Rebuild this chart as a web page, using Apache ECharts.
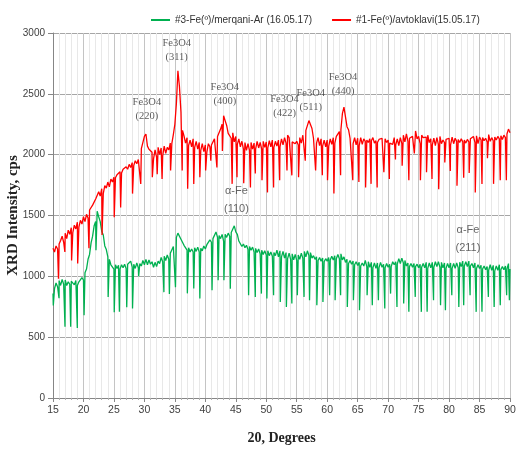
<!DOCTYPE html>
<html><head><meta charset="utf-8">
<script src="https://cdn.jsdelivr.net/npm/echarts@6/dist/echarts.min.js"></script>
<style>html,body{margin:0;padding:0;background:#fff}#c{width:518px;height:456px}</style>
</head><body><div id="c"></div>
<script>
// Sampling grid of the base traces (2θ, degrees)
const xStart = 15, xStep = 0.25;

// #1-Fe(º)/avtoklavi — base trace, 15.00 .. 90.00 every 0.25°
const redBase = [
1230,1200,1250,1225, 1265,1295,1330,1280, 1355,1310,1380,1345, 1400,1360,1420,1390,
1445,1405,1460,1430, 1490,1450,1510,1480, 1545,1535,1585,1590, 1635,1640,1695,1660,
1720,1680,1745,1725, 1775,1735,1800,1775, 1815,1810,1835,1830, 1860,1850,1880,1865,
1900,1880,1920,1895, 1935,1910,1950,1925, 1960,1970,2050,2065, 2150,2170,2070,2045,
2030,2020,1965,2040, 1980,2060,2000,2055, 1990,2070,2010,2060, 2040,2095,2090,2165,
2250,2420,2690,2560, 2350,2200,2155,2095, 2140,2075,2120,2065, 2130,2060,2110,2045,
2100,2035,2090,2025, 2080,2020,2090,2065, 2080,2085,2130,2125, 2150,2160,2210,2250,
2320,2280,2240,2175, 2190,2135,2180,2105, 2150,2085,2130,2065, 2110,2045,2100,2035,
2090,2035,2100,2045, 2095,2045,2110,2055, 2100,2045,2110,2060, 2105,2055,2115,2065,
2120,2060,2110,2070, 2120,2065,2130,2080, 2140,2095,2160,2140, 2150,2105,2120,2090,
2110,2080,2140,2095, 2160,2145,2200,2205, 2280,2295,2215,2135, 2150,2095,2140,2075,
2130,2070,2120,2065, 2120,2070,2130,2085, 2140,2095,2150,2135, 2190,2205,2340,2390,
2310,2230,2205,2135, 2150,2090,2140,2080, 2135,2075,2140,2085, 2130,2110,2120,2100,
2130,2115,2140,2095, 2115,2100,2125,2110, 2135,2125,2130,2100, 2120,2095,2110,2085,
2140,2080,2130,2075, 2140,2090,2160,2105, 2170,2110,2135,2120, 2150,2140,2195,2130,
2150,2090,2160,2140, 2150,2145,2160,2100, 2130,2080,2135,2075, 2140,2085,2150,2090,
2120,2100,2125,2110, 2135,2080,2145,2090, 2135,2110,2125,2100, 2130,2105,2120,2095,
2125,2105,2130,2120, 2150,2100,2155,2090, 2145,2120,2140,2115, 2135,2105,2165,2110,
2140,2115,2145,2120, 2150,2130,2155,2125, 2160,2140,2170,2210,
2180
];
// downward dropout spikes of the red trace
const redSpikeX = [15.9,16.95,18.05,19.05,20.9,23.05,25.05,26.1,28.05,29.4,31.3,32.1,32.9,34.3,36.2,
37.1,38.1,39.1,40.05,40.9,41.9,42.8,44.4,45.2,46.3,47.4,48.2,49.3,50.2,51.2,52.2,53.4,54.2,55.3,56.4,
58.1,59.2,60.05,61.1,62.2,64.2,65.2,66.3,67.2,68.2,69.3,70.2,71.2,72.3,73.4,74.3,75.3,76.3,77.2,78.3,
79.3,80.2,81.3,82.4,83.3,84.3,85.4,86.3,87.3,88.4,89.4];
const redSpikeY = [980,1200,1130,1105,1230,1340,1485,1565,1680,1760,1815,1840,1800,1870,1870,
1720,1760,1815,1870,1950,1895,2030,1760,1815,1765,1730,1845,1790,1690,1730,1790,1870,1830,1815,1950,
1870,1830,1790,1680,1830,1790,1775,1730,1760,1730,1855,1800,1960,1910,1790,2010,1790,1855,1800,1715,
1935,1865,1745,1810,1850,1690,1760,1970,1760,1790,1790];

// #3-Fe(º)/merqani-Ar — base trace, 15.00 .. 90.00 every 0.25°
const greenBase = [
860,900,945,915, 965,925,975,935, 970,925,955,935, 960,975,930,965,
925,955,945,990, 970,1030,1060,1140, 1180,1275,1330,1415, 1450,1535,1490,1450,
1370,1340,1250,1220, 1160,1140,1095,1100, 1060,1095,1065,1090, 1060,1095,1070,1100,
1065,1100,1085,1125, 1075,1100,1065,1110, 1070,1105,1085,1130, 1095,1140,1095,1135,
1100,1120,1075,1115, 1080,1125,1105,1155, 1120,1165,1130,1175, 1140,1190,1185,1245,
1250,1320,1355,1350, 1305,1300,1255,1255, 1215,1235,1200,1225, 1200,1235,1205,1240,
1200,1230,1210,1250, 1225,1260,1245,1300, 1280,1310,1305,1365, 1320,1335,1310,1345,
1290,1345,1320,1355, 1330,1360,1355,1415, 1365,1345,1290,1295, 1245,1265,1235,1255,
1220,1245,1215,1240, 1200,1230,1195,1225, 1185,1215,1180,1210, 1175,1210,1170,1200,
1165,1195,1170,1215, 1160,1210,1160,1205, 1150,1195,1145,1190, 1140,1185,1135,1180,
1130,1175,1140,1190, 1150,1205,1160,1210, 1170,1195,1150,1170, 1140,1160,1130,1155,
1125,1150,1120,1145, 1125,1155,1135,1165, 1135,1170,1145,1180, 1145,1185,1135,1160,
1115,1140,1105,1130, 1100,1125,1095,1120, 1090,1115,1085,1110, 1085,1130,1080,1120,
1075,1115,1070,1110, 1065,1110,1070,1115, 1075,1100,1070,1105, 1075,1100,1080,1120,
1095,1120,1100,1145, 1105,1150,1110,1130, 1085,1110,1080,1105, 1075,1105,1080,1100,
1070,1100,1075,1105, 1070,1115,1065,1110, 1070,1115,1075,1120, 1080,1120,1075,1115,
1070,1110,1065,1105, 1070,1110,1065,1105, 1065,1110,1070,1115, 1080,1125,1085,1120,
1080,1125,1085,1105, 1070,1110,1065,1095, 1065,1090,1060,1085, 1055,1080,1050,1095,
1050,1090,1045,1085, 1050,1095,1055,1080, 1055,1085,1060,1105,
1060
];
const greenSpikeX = [15.05,15.99,16.97,17.9,18.99,20.1,22.05,24.05,25.05,25.9,27.1,28.05,29.05,33.2,34.1,
35.1,37.05,38.1,39.1,41.1,42.1,43.05,44.1,47.1,48.2,49.2,50.1,51.2,52.3,53.3,54.2,55.1,56.2,57.1,58.3,
59.3,60.4,61.3,62.2,63.3,64.3,65.3,66.55,67.4,68.4,69.45,70.4,71.45,72.55,73.4,74.45,75.45,76.4,77.45,78.6,
79.4,80.45,81.6,82.4,83.45,84.45,85.4,86.45,87.4,88.4,89.45,89.9];
const greenSpikeY = [760,820,585,585,575,680,1215,830,705,710,745,735,1000,870,855,
910,860,900,817,886,968,968,899,845,831,858,817,845,790,749,776,845,831,804,763,
790,845,804,845,749,804,722,845,763,804,735,858,749,776,708,831,708,708,804,763,
722,845,749,763,845,708,708,831,749,763,845,804];

const seriesNames = ['#3-Fe(º)/merqani-Ar (16.05.17)', '#1-Fe(º)/avtoklavi(15.05.17)'];
const seriesColors = ['#00b050', '#ff0000'];

// peak annotations (2θ, intensity, text)
const feoX = [30.4, 35.3, 43.2, 53.0, 57.3, 62.6];
const feoY = [2370, 2855, 2500, 2400, 2450, 2580];
const feoText = ['Fe3O4\n(220)', 'Fe3O4\n(311)', 'Fe3O4\n(400)', 'Fe3O4\n(422)', 'Fe3O4\n(511)', 'Fe3O4\n(440)'];
const alphaX = [45.1, 83.1];
const alphaY = [1625, 1310];
const alphaText = ['α-Fe\n(110)', 'α-Fe\n(211)'];

const xMin = 15, xMax = 90, xInterval = 5;
const yMin = 0, yMax = 3000, yInterval = 500;

function buildTrace(base, sx, sy) {
  const pts = base.map((v, i) => [xStart + i * xStep, v]);
  sx.forEach((x, i) => pts.push([x, sy[i]]));
  pts.sort((a, b) => a[0] - b[0]);
  return pts;
}

const narrow = "'Liberation Sans Narrow', 'Liberation Sans', sans-serif";
const serif = "'Liberation Serif', serif";

const chart = echarts.init(document.getElementById('c'), null, {renderer: 'canvas'});
chart.setOption({
  animation: false,
  backgroundColor: '#ffffff',
  legend: {
    data: seriesNames,
    left: 146, top: 10, width: 400,
    icon: 'rect', itemWidth: 19, itemHeight: 2, itemGap: 20,
    textStyle: {fontFamily: narrow, fontSize: 10, color: '#333'}
  },
  grid: {left: 53, right: 8, top: 33, bottom: 58, containLabel: false, outerBoundsMode: 'none'},
  xAxis: {
    type: 'value', min: xMin, max: xMax, interval: xInterval,
    name: '20, Degrees', nameLocation: 'middle', nameGap: 33, nameMoveOverlap: false,
    nameTextStyle: {fontFamily: serif, fontWeight: 'bold', fontSize: 14, color: '#222'},
    axisLine: {show: true, lineStyle: {color: '#868686'}},
    axisTick: {show: true, length: 4, lineStyle: {color: '#868686'}},
    minorTick: {show: true, splitNumber: 5, length: 2, lineStyle: {color: '#b0b0b0'}},
    axisLabel: {fontFamily: narrow, fontSize: 10.5, color: '#404040', margin: 7},
    splitLine: {show: true, lineStyle: {color: '#c4c4c4', width: 1, type: 'solid'}},
    minorSplitLine: {show: true, lineStyle: {color: '#e8e8e8', width: 1, type: 'solid'}}
  },
  yAxis: {
    type: 'value', min: yMin, max: yMax, interval: yInterval,
    name: 'XRD Intensity, cps', nameLocation: 'middle', nameGap: 32, nameRotate: 90,
    nameMoveOverlap: false,
    nameTextStyle: {fontFamily: serif, fontWeight: 'bold', fontSize: 15, color: '#222'},
    axisLine: {show: true, lineStyle: {color: '#868686'}},
    axisTick: {show: true, length: 5, lineStyle: {color: '#868686'}},
    axisLabel: {fontFamily: narrow, fontSize: 10, color: '#404040', margin: 8,
      formatter: v => String(v)},
    splitLine: {show: true, lineStyle: {color: '#a6a6a6', width: 1, type: 'solid'}}
  },
  series: [
    {
      name: seriesNames[0], type: 'line', data: buildTrace(greenBase, greenSpikeX, greenSpikeY),
      showSymbol: false, symbol: 'none', color: seriesColors[0],
      lineStyle: {width: 1.3, color: seriesColors[0]}, silent: true
    },
    {
      name: seriesNames[1], type: 'line', data: buildTrace(redBase, redSpikeX, redSpikeY),
      showSymbol: false, symbol: 'none', color: seriesColors[1],
      lineStyle: {width: 1.3, color: seriesColors[1]}, silent: true
    },
    {
      name: 'feo', type: 'scatter', silent: true, symbolSize: 1,
      itemStyle: {color: 'rgba(0,0,0,0)'},
      data: feoX.map((x, i) => [x, feoY[i], feoText[i]]),
      label: {show: true, position: 'inside', formatter: p => p.data[2],
        fontFamily: serif, fontSize: 10.5, lineHeight: 14, color: '#333'}
    },
    {
      name: 'alpha', type: 'scatter', silent: true, symbolSize: 1,
      itemStyle: {color: 'rgba(0,0,0,0)'},
      data: alphaX.map((x, i) => [x, alphaY[i], alphaText[i]]),
      label: {show: true, position: 'inside', formatter: p => p.data[2],
        fontFamily: narrow, fontSize: 11, lineHeight: 18, color: '#404040'}
    }
  ]
});
</script>
</body></html>
